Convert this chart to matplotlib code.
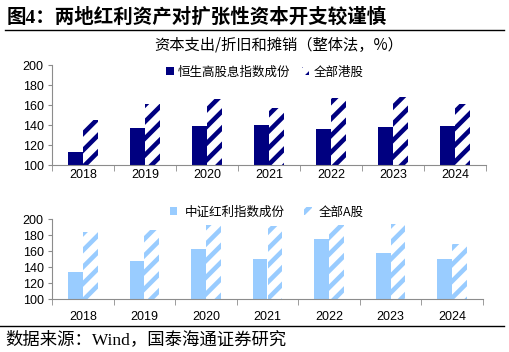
import matplotlib
matplotlib.use('Agg')
import matplotlib.pyplot as plt
import numpy as np
from matplotlib.lines import Line2D

plt.rcParams['font.family'] = ['Liberation Sans', 'Noto Sans CJK SC']
plt.rcParams['hatch.linewidth'] = 3.3

years = ['2018', '2019', '2020', '2021', '2022', '2023', '2024']
hs_div = [113, 137, 139, 140, 136, 138, 139]      # 恒生高股息指数成份
hk_all = [145, 161, 166, 157, 167, 168, 161]      # 全部港股
csi_div = [134, 147, 163, 150, 175, 157, 150]     # 中证红利指数成份
a_all = [184, 186, 193, 191, 193, 194, 169]       # 全部A股

navy = '#000080'
light = '#99CCFF'
axis_grey = '#8C8C8C'
cjk = ['Noto Sans CJK SC', 'DejaVu Sans']

fig = plt.figure(figsize=(5.10, 3.52), dpi=100)
W, H = 510.0, 352.0


def style_axes(ax, label_pad):
    x = np.arange(len(years))
    ax.set_xlim(-0.5, len(years) - 0.5)
    ax.set_ylim(100, 200)
    ax.set_yticks(range(100, 201, 20))
    ax.set_xticks(x)
    ax.set_xticklabels(years)
    ax.set_xticks(np.arange(-0.5, len(years)), minor=True)
    ax.tick_params(axis='x', which='major', length=0, pad=label_pad, labelsize=9)
    ax.tick_params(axis='x', which='minor', length=4, color=axis_grey, direction='out')
    ax.tick_params(axis='y', length=3, color=axis_grey, pad=3, labelsize=9)
    for s in ['top', 'right']:
        ax.spines[s].set_visible(False)
    for s in ['left', 'bottom']:
        ax.spines[s].set_color(axis_grey)
        ax.spines[s].set_linewidth(0.8)
    ax.set_facecolor('none')


def draw_pair(ax, solid, hatched, color):
    x = np.arange(len(years))
    w = 0.24
    b1 = ax.bar(x - w / 2, np.array(solid) - 100, w, bottom=100, color=color, linewidth=0)
    b2 = ax.bar(x + w / 2, np.array(hatched) - 100, w, bottom=100, facecolor='white',
                edgecolor=color, hatch='//', linewidth=0)
    return b1, b2


# top chart: Hong Kong
ax1 = fig.add_axes([52 / W, 1 - 165 / H, 434 / W, 100 / H])
style_axes(ax1, 3)
b1, b2 = draw_pair(ax1, hs_div, hk_all, navy)
leg1 = fig.legend([b1, b2], ['恒生高股息指数成份', '全部港股'], loc='center left',
                  bbox_to_anchor=(166 / W, 1 - 72 / H), ncol=2, frameon=False,
                  borderpad=0, borderaxespad=0, handlelength=0.6, handleheight=0.6,
                  handletextpad=0.35, columnspacing=0.9, prop={'family': cjk, 'size': 9})

# bottom chart: A shares
ax2 = fig.add_axes([52 / W, 1 - 299 / H, 431 / W, 80 / H])
style_axes(ax2, 9)
c1, c2 = draw_pair(ax2, csi_div, a_all, light)
leg2 = fig.legend([c1, c2], ['中证红利指数成份', '全部A股'], loc='center left',
                  bbox_to_anchor=(170 / W, 1 - 212 / H), ncol=2, frameon=False,
                  borderpad=0, borderaxespad=0, handlelength=0.6, handleheight=0.6,
                  handletextpad=0.55, columnspacing=1.6, prop={'family': cjk, 'size': 9})

# title, subtitle, source
fig.text(7 / W, 1 - 17 / H, '图4：两地红利资产对扩张性资本开支较谨慎', ha='left', va='center',
         fontsize=14, fontweight='bold', family=['Liberation Serif', 'Noto Sans CJK SC'])
fig.add_artist(Line2D([5 / W, 504 / W], [1 - 30 / H, 1 - 30 / H], color='black', lw=1.0))
fig.text(279 / W, 1 - 45 / H, '资本支出/折旧和摊销（整体法，%）', ha='center', va='center',
         fontsize=11, family=cjk)
fig.add_artist(Line2D([0, 504 / W], [1 - 326 / H, 1 - 326 / H], color='black', lw=1.0))
fig.text(5 / W, 1 - 340 / H, '数据来源：Wind，国泰海通证券研究', ha='left', va='center',
         fontsize=12.5, family=['Liberation Serif', 'Noto Sans CJK SC'])

fig.savefig('out.png', dpi=100)
